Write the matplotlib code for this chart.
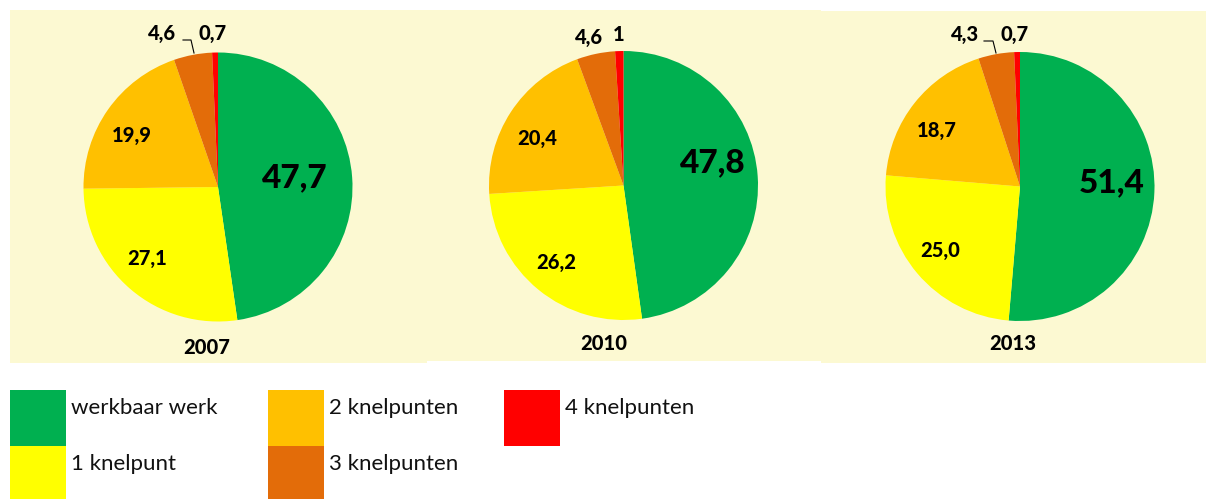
import matplotlib.pyplot as plt
from matplotlib.patches import Rectangle

# Data
categories = ["werkbaar werk", "1 knelpunt", "2 knelpunten", "3 knelpunten", "4 knelpunten"]
colors = ["#00B050", "#FFFF00", "#FFC000", "#E36C09", "#FF0000"]
years = ["2007", "2010", "2013"]
v2007 = [47.7, 27.1, 19.9, 4.6, 0.7]
v2010 = [47.8, 26.2, 20.4, 4.6, 1]
v2013 = [51.4, 25.0, 18.7, 4.3, 0.7]
values = [v2007, v2010, v2013]

W, H = 1206, 499
BG = "#FCF9D2"
plt.rcParams["font.family"] = ["Lato", "DejaVu Sans"]


def fmt(v):
    if isinstance(v, int):
        return str(v)
    return f"{v:.1f}".replace(".", ",")


# layout (pixel coordinates, y from top)
centers = [(218, 187), (623.5, 185.5), (1020, 186.5)]
radius = 134.5
label_pos = [
    [(295, 178), (147, 258), (132, 135), (162, 33), (213, 33)],
    [(713, 163), (556, 262), (537, 138), (589, 37), (619, 34)],
    [(1112, 183), (940, 250), (937, 130), (965, 34), (1015, 34)],
]
year_pos = [(207, 348), (604, 343), (1013, 343)]
leaders = [
    [(183, 40), (191, 40), (194, 53)],
    None,
    [(984, 41), (993, 41), (996, 53)],
]
panels = [(10, 10, 427, 363), (427, 10, 821, 361), (821, 11, 1206, 363)]
# legend boxes: (x, y) top-left of each square, size 56
legend_pos = [(10, 390), (10, 446), (268, 390), (268, 446), (504, 390)]
legend_text_dy = -10

fig = plt.figure(figsize=(W / 100, H / 100), dpi=100)
ax = fig.add_axes([0, 0, 1, 1])

for x0, y0, x1, y1 in panels:
    ax.add_patch(Rectangle((x0, H - y1), x1 - x0, y1 - y0, color=BG, lw=0, zorder=0))

for i, vals in enumerate(values):
    cx, cy = centers[i]
    ax.pie(vals, colors=colors, startangle=90, counterclock=False,
           center=(cx, H - cy), radius=radius, frame=True,
           wedgeprops=dict(linewidth=0))
    for j, v in enumerate(vals):
        x, y = label_pos[i][j]
        ax.text(x, H - y, fmt(v), ha="center", va="center", fontweight="black",
                fontsize=24 if j == 0 else 14.5, color="black")
    x, y = year_pos[i]
    ax.text(x, H - y, years[i], ha="center", va="center", fontweight="black",
            fontsize=14.5, color="black")
    if leaders[i]:
        xs = [p[0] for p in leaders[i]]
        ys = [H - p[1] for p in leaders[i]]
        ax.plot(xs, ys, color="black", lw=0.8)

# legend
size = 56
for k, (x, y) in enumerate(legend_pos):
    h = min(size, H - y)
    ax.add_patch(Rectangle((x, H - y - h), size, h, color=colors[k], lw=0))
    ax.text(x + size + 5, H - (y + size / 2 + legend_text_dy), categories[k],
            ha="left", va="center", fontsize=16, color="#111111")

ax.set_xlim(0, W)
ax.set_ylim(0, H)
ax.set_aspect("auto")
ax.axis("off")

fig.savefig("out.png", dpi=100, facecolor="white")
